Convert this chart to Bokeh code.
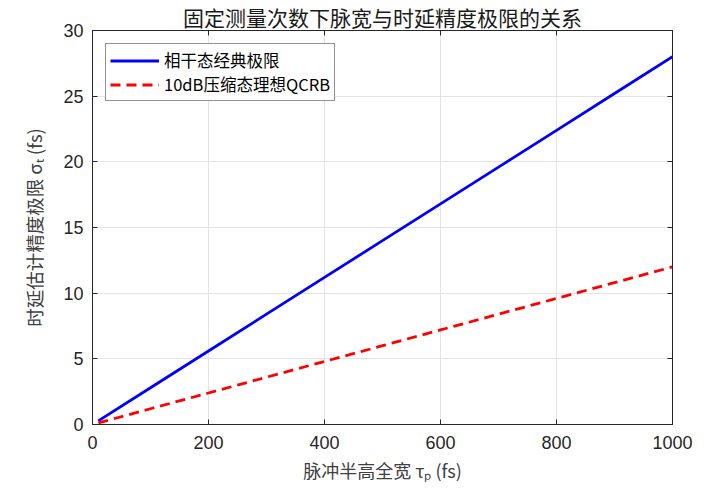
from bokeh.plotting import figure
from bokeh.models import Range1d, Legend, LegendItem, ColumnDataSource, LinearAxis, CustomJSTickFormatter
from bokeh.embed import file_html
from bokeh.resources import INLINE

# data
tau_p = [10, 100, 200, 300, 400, 500, 600, 700, 800, 900, 1000]
sigma_classical = [0.28, 2.8, 5.6, 8.4, 11.2, 14.0, 16.8, 19.6, 22.4, 25.2, 28.0]
sigma_qcrb = [0.12, 1.2, 2.4, 3.6, 4.8, 6.0, 7.2, 8.4, 9.6, 10.8, 12.0]
x_ticks = [0, 200, 400, 600, 800, 1000]
y_ticks = [0, 5, 10, 15, 20, 25, 30]

title_text = "固定测量次数下脉宽与时延精度极限的关系"
xlabel = "脉冲半高全宽 τₚ (fs)"
ylabel = "时延估计精度极限 σₜ (fs)"
legend_labels = ["相干态经典极限", "10dB压缩态理想QCRB"]

CJK = "Noto Sans CJK SC"
NUM = "Liberation Sans"
TXT = "#262626"

p = figure(width=710, height=487, output_backend="svg", toolbar_location=None,
           x_range=Range1d(0, 1000), y_range=Range1d(0, 30),
           min_border_left=92, min_border_right=38, min_border_bottom=63, min_border_top=0)

p.title.text = title_text
p.title.align = "center"
p.title.text_font = CJK
p.title.text_font_size = "21px"
p.title.text_font_style = "normal"
p.title.text_color = "#1a1a1a"
p.title.text_line_height = 0.7
p.title.standoff = -2

p.outline_line_color = "#262626"
p.outline_line_width = 1
p.background_fill_color = "white"

for ax in p.xaxis + p.yaxis:
    ax.major_tick_in = 5
    ax.major_tick_out = 0
    ax.minor_tick_in = 0
    ax.minor_tick_out = 0
    ax.axis_line_color = "#262626"
    ax.major_tick_line_color = "#262626"
    ax.major_label_text_font = NUM
    ax.major_label_text_font_size = "18px"
    ax.major_label_text_color = TXT
    ax.axis_label_text_font = CJK
    ax.axis_label_text_font_style = "normal"
    ax.axis_label_text_color = "#404040"

p.xaxis.ticker = x_ticks
p.yaxis.ticker = y_ticks
p.xaxis.axis_label = xlabel
p.yaxis.axis_label = ylabel
p.xaxis.axis_label_text_font_size = "18px"
p.yaxis.axis_label_text_font_size = "18.5px"
p.xaxis.major_label_standoff = 11
p.yaxis.major_label_standoff = 9
p.xaxis.axis_label_standoff = 5
p.yaxis.axis_label_standoff = 13

# top / right inward ticks without labels
blank = CustomJSTickFormatter(code="return ''")
for loc, tk in (("above", x_ticks), ("right", y_ticks)):
    ax2 = LinearAxis(ticker=tk, formatter=blank, major_tick_in=5, major_tick_out=0,
                     minor_tick_in=0, minor_tick_out=0, major_label_standoff=0,
                     major_label_text_font_size="1px",
                     axis_line_color="#262626", major_tick_line_color="#262626")
    p.add_layout(ax2, loc)

p.grid.grid_line_color = "#e3e3e3"
p.grid.grid_line_width = 1
p.xgrid.ticker = x_ticks
p.ygrid.ticker = y_ticks

src = ColumnDataSource(dict(x=tau_p, c=sigma_classical, q=sigma_qcrb))
r1 = p.line("x", "c", source=src, line_color="#0000ff", line_width=2.8)
r2 = p.line("x", "q", source=src, line_color="#ff0000", line_width=2.8, line_dash="10 6")

legend = Legend(items=[LegendItem(label=legend_labels[0], renderers=[r1]),
                       LegendItem(label=legend_labels[1], renderers=[r2])],
                location="top_left", margin=13, padding=4, spacing=0,
                label_height=19, glyph_height=19, glyph_width=49, label_standoff=5,
                border_line_color="#262626", border_line_width=1,
                background_fill_color="white", background_fill_alpha=1,
                label_text_font=CJK, label_text_font_size="16.5px", label_text_color="#000000")
p.add_layout(legend)

open("out.html", "w").write(file_html(p, INLINE))
